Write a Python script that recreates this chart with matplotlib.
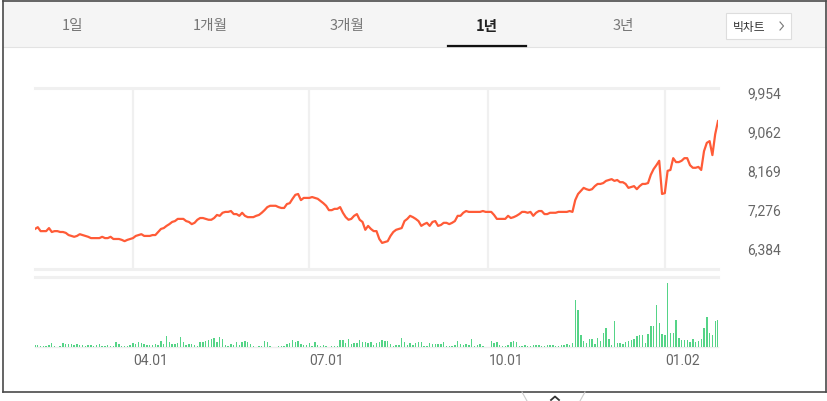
import matplotlib
matplotlib.use('Agg')
import matplotlib.pyplot as plt
from matplotlib.patches import Rectangle
from matplotlib.lines import Line2D

# daily close (won), one trading year
price = [6820, 6860, 6770, 6770, 6770, 6840, 6750, 6770, 6770, 6750,
         6750, 6730, 6680, 6660, 6640, 6660, 6700, 6680, 6660, 6640,
         6610, 6610, 6610, 6610, 6640, 6610, 6610, 6640, 6590, 6590,
         6590, 6570, 6540, 6570, 6590, 6610, 6660, 6680, 6700, 6660,
         6660, 6660, 6680, 6680, 6750, 6820, 6840, 6890, 6930, 6980,
         7000, 7050, 7050, 7050, 7000, 6980, 6930, 6960, 7030, 7070,
         7070, 7050, 7030, 7030, 7070, 7140, 7120, 7190, 7210, 7210,
         7230, 7160, 7160, 7120, 7190, 7120, 7090, 7090, 7090, 7120,
         7140, 7190, 7250, 7320, 7350, 7350, 7350, 7320, 7300, 7300,
         7390, 7410, 7510, 7600, 7620, 7480, 7530, 7530, 7530, 7550,
         7530, 7510, 7460, 7410, 7350, 7250, 7250, 7280, 7280, 7320,
         7190, 7090, 7030, 7050, 7120, 7160, 7030, 6980, 6800, 6890,
         6820, 6770, 6770, 6590, 6500, 6520, 6540, 6660, 6750, 6800,
         6820, 6840, 7000, 7050, 7120, 7090, 7050, 7000, 6890, 6930,
         6960, 6890, 6980, 7000, 6890, 6910, 6960, 6960, 6930, 6960,
         7000, 7120, 7120, 7190, 7230, 7210, 7210, 7210, 7210, 7210,
         7230, 7210, 7210, 7210, 7140, 7050, 7050, 7050, 7050, 7120,
         7070, 7090, 7120, 7160, 7210, 7210, 7190, 7210, 7120, 7190,
         7230, 7230, 7160, 7160, 7190, 7190, 7190, 7210, 7210, 7210,
         7210, 7230, 7210, 7480, 7620, 7690, 7760, 7730, 7710, 7730,
         7800, 7850, 7850, 7870, 7920, 7940, 7960, 7920, 7940, 7890,
         7890, 7850, 7760, 7780, 7800, 7730, 7800, 7850, 7850, 7870,
         8060, 8190, 8280, 8380, 7620, 7640, 8150, 8170, 8440, 8350,
         8350, 8380, 8440, 8440, 8280, 8220, 8220, 8240, 8170, 8600,
         8790, 8830, 8510, 8990, 9290]

# daily volume (thousand shares)
volume = [100, 100, 50, 50, 50, 100, 200, 50, 25, 50,
          200, 150, 150, 150, 100, 150, 100, 100, 50, 100,
          100, 50, 100, 150, 50, 50, 100, 50, 50, 250,
          150, 50, 50, 50, 100, 200, 150, 250, 200, 150,
          100, 100, 100, 150, 100, 300, 150, 550, 250, 150,
          150, 200, 500, 250, 100, 150, 150, 100, 50, 250,
          250, 300, 350, 400, 450, 250, 500, 400, 100, 50,
          150, 100, 250, 100, 250, 300, 250, 150, 50, 25,
          50, 50, 300, 250, 50, 25, 25, 50, 50, 50,
          150, 200, 350, 250, 300, 150, 100, 100, 200, 50,
          250, 100, 50, 100, 50, 25, 50, 50, 50, 350,
          350, 200, 400, 150, 200, 200, 350, 250, 250, 200,
          250, 100, 200, 250, 350, 300, 300, 150, 50, 100,
          100, 450, 250, 100, 200, 100, 200, 250, 250, 50,
          50, 200, 150, 150, 150, 150, 250, 50, 50, 50,
          100, 300, 150, 100, 150, 100, 400, 50, 100, 150,
          50, 25, 25, 300, 200, 250, 100, 50, 50, 100,
          250, 300, 250, 50, 50, 100, 50, 50, 100, 100,
          100, 50, 50, 100, 100, 100, 50, 50, 100, 100,
          150, 100, 200, 2350, 1850, 600, 300, 200, 400, 400,
          150, 450, 300, 700, 950, 400, 100, 1300, 200, 200,
          150, 250, 300, 350, 400, 550, 600, 600, 200, 650,
          1050, 1050, 2100, 1200, 650, 600, 3200, 700, 700, 1350,
          450, 350, 350, 350, 250, 400, 250, 300, 400, 950,
          1500, 700, 600, 1300, 1350]

# trading-day index of the first session of each labelled month
month_idx = [35, 98, 162, 225]
month_labels = ['04.01', '07.01', '10.01', '01.02']

price_ticks = [6384, 7276, 8169, 9062, 9954]
tabs = ['1일', '1개월', '3개월', '1년', '3년']
tab_x = [73, 210, 347, 487, 623]
selected_tab = '1년'

W, H = 828, 402
KR = ['Noto Sans CJK KR', 'DejaVu Sans']
plt.rcParams['font.family'] = ['Roboto', 'DejaVu Sans']


def fx(x):
    return x / W


def fy(y):
    return 1 - y / H


fig = plt.figure(figsize=(W / 100, H / 100), dpi=100)

# outer frame and tab bar
fig.patches.append(Rectangle((fx(3), fy(48)), fx(823), 45 / H, transform=fig.transFigure,
                             facecolor='#f5f5f5', edgecolor='none', zorder=0))
fig.lines.append(Line2D([fx(3), fx(826)], [fy(48), fy(48)], transform=fig.transFigure,
                        color='#e3e3e3', lw=0.8))
frame = dict(transform=fig.transFigure, color='#4a4a4a', lw=1.2)
fig.lines.append(Line2D([fx(3), fx(826)], [fy(1.5), fy(1.5)], **frame))
fig.lines.append(Line2D([fx(3.5), fx(3.5)], [fy(1.5), fy(393)], **frame))
fig.lines.append(Line2D([fx(826), fx(826)], [fy(1.5), fy(393)], **frame))
fig.lines.append(Line2D([fx(3), fx(826)], [fy(393), fy(393)], **frame))

for t, x in zip(tabs, tab_x):
    sel = t == selected_tab
    fig.text(fx(x), fy(26), t, ha='center', va='center', fontsize=10.5, family=KR,
             color='#222222' if sel else '#777777', weight='bold' if sel else 'normal')
fig.lines.append(Line2D([fx(448), fx(526)], [fy(47), fy(47)], transform=fig.transFigure,
                        color='#111111', lw=1.6))

# big chart button
fig.patches.append(Rectangle((fx(726), fy(40)), fx(65), 26 / H, transform=fig.transFigure,
                             facecolor='white', edgecolor='#dddddd', lw=0.8))
fig.text(fx(749), fy(27), '빅차트', ha='center', va='center', fontsize=8.5, family=KR, color='#333333')
fig.lines.append(Line2D([fx(780), fx(783.5), fx(780)], [fy(23), fy(27), fy(31)],
                        transform=fig.transFigure, color='#777777', lw=0.8))

# collapse tab under the frame
fig.lines.append(Line2D([fx(522), fx(527)], [fy(393), fy(402)], transform=fig.transFigure,
                        color='#cccccc', lw=0.8))
fig.lines.append(Line2D([fx(585), fx(580)], [fy(393), fy(402)], transform=fig.transFigure,
                        color='#cccccc', lw=0.8))
fig.lines.append(Line2D([fx(551), fx(555), fx(559)], [fy(401), fy(397.5), fy(401)],
                        transform=fig.transFigure, color='#333333', lw=1.3))

days = range(len(price))

# price panel
ax = fig.add_axes([fx(35), fy(270), fx(683), 181 / H])
ax.plot(days, price, color='#ff5b37', lw=1.6, zorder=3)
ax.set_xlim(0, len(price) - 1)
ax.set_ylim(5903, 10046)
ax.set_xticks(month_idx)
ax.set_xticklabels([])
ax.tick_params(axis='x', length=0)
ax.grid(axis='x', color='#f0f0f0', lw=1.6)
ax.set_axisbelow(True)
ax.yaxis.tick_right()
ax.set_yticks(price_ticks)
ax.set_yticklabels([f'{v:,}' for v in price_ticks])
ax.tick_params(axis='y', length=0, pad=21, labelsize=10, labelcolor='#666666')
for s in ['left', 'right']:
    ax.spines[s].set_visible(False)
for s in ['top', 'bottom']:
    ax.spines[s].set_color('#f0f0f0')
    ax.spines[s].set_linewidth(2.2)

# volume panel
vx = fig.add_axes([fx(35), fy(348), fx(683), 70 / H])
vx.bar(days, volume, width=0.5, color='#55d487', zorder=3)
vx.set_xlim(0, len(volume) - 1)
vx.set_ylim(0, 3500)
vx.set_yticks([])
vx.set_xticks(month_idx)
vx.set_xticklabels(month_labels, ha='left')
vx.tick_params(axis='x', length=0, pad=4, labelsize=10, labelcolor='#666666')
for s in ['left', 'right']:
    vx.spines[s].set_visible(False)
vx.spines['top'].set_color('#f0f0f0')
vx.spines['top'].set_linewidth(2.2)
vx.spines['bottom'].set_color('#eeeeee')
vx.spines['bottom'].set_linewidth(1)

fig.savefig('out.png', dpi=100)
